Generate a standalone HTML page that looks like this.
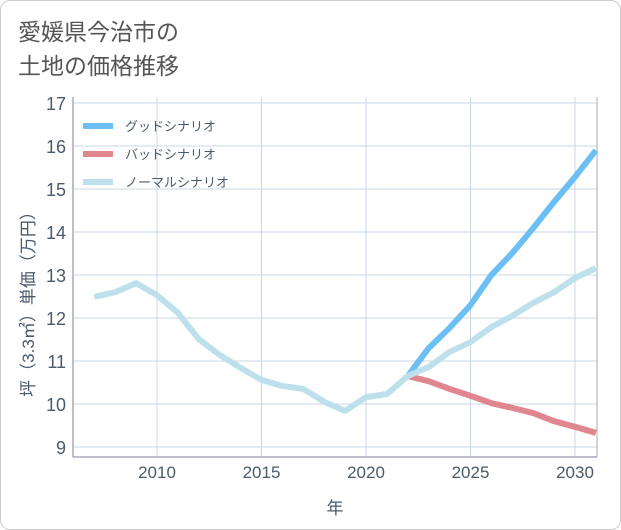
<!DOCTYPE html>
<html><head><meta charset="utf-8"><style>
body{margin:0;background:#fff;}
#wrap{position:relative;width:619px;height:528px;border:1px solid #ccc;border-radius:10px;overflow:hidden;background:#fff;font-family:"Liberation Sans","Noto Sans CJK JP",sans-serif;}
#title{position:absolute;left:17px;top:14px;font-size:23px;line-height:34px;color:#555;}
svg text{font-family:"Liberation Sans","Noto Sans CJK JP",sans-serif;}
</style></head><body>
<div id="wrap">
<div id="title">愛媛県今治市の<br>土地の価格推移</div>
<svg id="chart" width="621" height="530" style="position:absolute;left:-1px;top:-1px"></svg>
</div>
<script>
const years=[2007,2008,2009,2010,2011,2012,2013,2014,2015,2016,2017,2018,2019,2020,2021,2022,2023,2024,2025,2026,2027,2028,2029,2030,2031];
const normalVals=[12.49,12.6,12.81,12.53,12.12,11.51,11.14,10.84,10.56,10.42,10.35,10.05,9.84,10.16,10.23,10.65,10.86,11.21,11.44,11.79,12.05,12.35,12.6,12.93,13.16];
const futureYears=[2022,2023,2024,2025,2026,2027,2028,2029,2030,2031];
const goodVals=[10.65,11.3,11.77,12.3,13.0,13.51,14.09,14.7,15.28,15.9];
const badVals=[10.65,10.53,10.35,10.19,10.02,9.91,9.79,9.6,9.47,9.33];
const yTicks=[9,10,11,12,13,14,15,16,17];
const xTicks=[2010,2015,2020,2025,2030];
const legendLabels=["グッドシナリオ","バッドシナリオ","ノーマルシナリオ"];

const NS="http://www.w3.org/2000/svg";
const svg=document.getElementById('chart');
const L=73,R=597,T=97,B=457;
const x=v=>157+(v-2010)*20.9;
const y=v=>103+(17-v)*43;
function mk(t,a,p){const e=document.createElementNS(NS,t);for(const k in a)e.setAttribute(k,a[k]);(p||svg).appendChild(e);return e;}
// grid
for(const t of yTicks){
 const g=mk('line',{x1:L,x2:R,y1:y(t),y2:y(t),stroke:'#c9d7e4','stroke-width':1});
 
 
 const lb=mk('text',{x:66,y:y(t)+7,'text-anchor':'end','font-size':18,fill:'#4a5a6a'});
 lb.textContent=t;
 
 
}
for(let v=2007;v<=2031;v++){ }
for(const t of xTicks){
 const g=mk('line',{x1:x(t),x2:x(t),y1:T,y2:B,stroke:'#c9d7e4','stroke-width':1});
 
 
 const lb=mk('text',{x:x(t),y:478,'text-anchor':'middle','font-size':17,fill:'#4a5a6a'});
 lb.textContent=t;
 
 
}
const ax=mk('line',{x1:L,x2:L,y1:T,y2:B,stroke:'#aab','stroke-width':1.5});


const ax2=mk('line',{x1:L,x2:R,y1:B,y2:B,stroke:'#aab','stroke-width':1.5});


const ax3=mk('line',{x1:R,x2:R,y1:T,y2:B,stroke:'#aab','stroke-width':1});


function line(xs,vs,color,name){
 const p=mk('polyline',{points:xs.map((v,i)=>x(v)+','+y(vs[i])).join(' '),fill:'none',stroke:color,'stroke-width':6,'stroke-linejoin':'round'});
 
 
}
line(futureYears,badVals,'#e0868e','bad-scenario-line');
line(futureYears,goodVals,'#6cbff2','good-scenario-line');
line(years,normalVals,'#bde0ec','normal-scenario-line');
const cols=['#6cbff2','#e0868e','#bde0ec'];
legendLabels.forEach((s,i)=>{
 const ly=126+i*28;
 const g=mk('g',{});
 
 
 mk('line',{x1:83,x2:113,y1:ly,y2:ly,stroke:cols[i],'stroke-width':6},g);
 const t=mk('text',{x:125,y:ly+5,'font-size':13,fill:'#4a5a6a'},g);t.textContent=s;
});
const xt=mk('text',{x:335,y:514,'text-anchor':'middle','font-size':17,fill:'#4a5a6a'});
xt.textContent='年';


const yt=mk('text',{x:0,y:0,'text-anchor':'middle','font-size':17,fill:'#4a5a6a',transform:'translate(34,300) rotate(-90)'});
yt.textContent='坪（3.3㎡）単価（万円）';


</script>
</body></html>
